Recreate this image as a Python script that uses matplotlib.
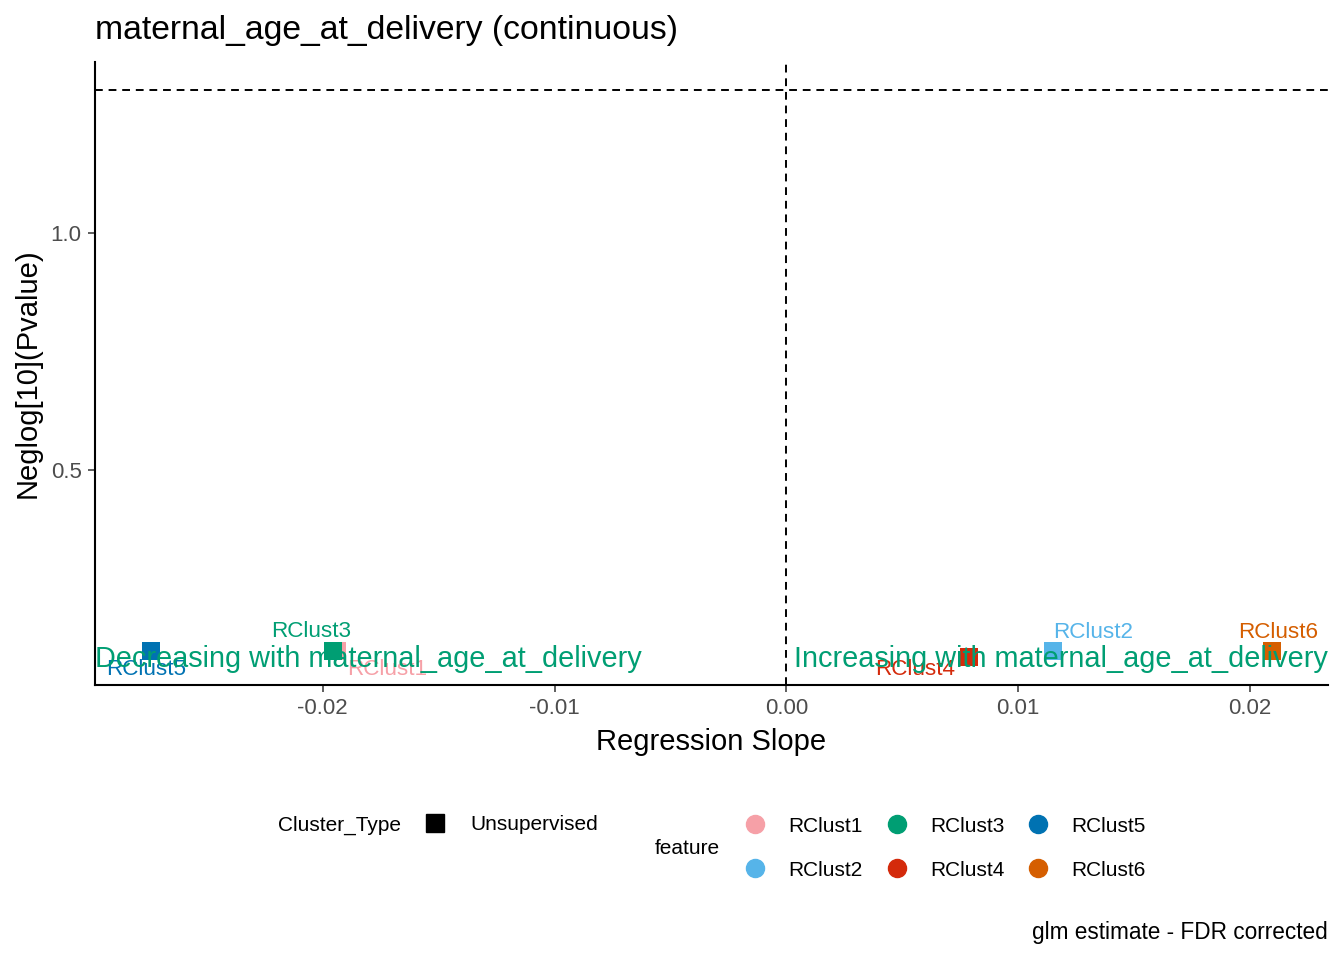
import matplotlib
matplotlib.use("Agg")
import matplotlib.pyplot as plt
from matplotlib.lines import Line2D

plt.rcParams['font.family'] = ['Liberation Sans', 'DejaVu Sans']

# data
features = ["RClust1", "RClust2", "RClust3", "RClust4", "RClust5", "RClust6"]
slope = [-0.0194, 0.0115, -0.01955, 0.0079, -0.02741, 0.02095]
neglog_p = [0.119, 0.119, 0.119, 0.106, 0.119, 0.119]
cluster_type = ["Unsupervised"] * 6
colors = ["#F6A0A7", "#56B4E9", "#009E73", "#D42A0B", "#0072B2", "#D55E00"]
sig_line = 1.301  # -log10(0.05)

# label offsets in points (dx, dy), like ggrepel placed them
label_off = {"RClust1": (36, -13.5), "RClust2": (29, 13), "RClust3": (-16, 13.5),
             "RClust4": (-39, -9.5), "RClust5": (-3.5, -13.5), "RClust6": (4.5, 13)}

W, H = 1344, 960
fig = plt.figure(figsize=(W / 100, H / 100), dpi=100)
ax = fig.add_axes([95 / W, (H - 685) / H, (1328 - 95) / W, (685 - 62) / H])

# draw order: RClust1 first so RClust3 covers it
for f, x, y, c in zip(features, slope, neglog_p, colors):
    ax.scatter(x, y, marker='s', s=13.5 ** 2, color=c, zorder=3, linewidths=0)
for f, x, y, c in zip(features, slope, neglog_p, colors):
    dx, dy = label_off[f]
    ax.annotate(f, (x, y), xytext=(dx, dy), textcoords='offset points',
                ha='center', va='center', color=c, fontsize=16.2, zorder=4)

ax.axhline(sig_line, color='black', lw=1.4, ls=(0, (4, 3)), zorder=2)
ax.axvline(0, color='black', lw=1.4, ls=(0, (4, 3)), zorder=2)

# ggplot style 5% expansion
xs = slope + [0.0]
ys = neglog_p + [sig_line]
dx = (max(xs) - min(xs)) * 0.05
dy = (max(ys) - min(ys)) * 0.05
ax.set_xlim(min(xs) - dx, max(xs) + dx)
ax.set_ylim(min(ys) - dy, max(ys) + dy)

ax.text(0.0, 0.102, "Decreasing with maternal_age_at_delivery", transform=ax.get_yaxis_transform(),
        ha='left', va='center', color='#009E73', fontsize=20.8, zorder=5)
ax.text(1.0, 0.102, "Increasing with maternal_age_at_delivery", transform=ax.get_yaxis_transform(),
        ha='right', va='center', color='#009E73', fontsize=20.8, zorder=5)

ax.set_xticks([-0.02, -0.01, 0.0, 0.01, 0.02])
ax.set_xticklabels(["-0.02", "-0.01", "0.00", "0.01", "0.02"])
ax.set_yticks([0.5, 1.0])
ax.set_yticklabels(["0.5", "1.0"])
ax.tick_params(labelsize=16, labelcolor='#4D4D4D', color='#333333', length=5.2, width=1.1, pad=4.5)
for s in ['top', 'right']:
    ax.spines[s].set_visible(False)
for s in ['left', 'bottom']:
    ax.spines[s].set_linewidth(1.5)

fig.text(95 / W, 1 - 30 / H, "maternal_age_at_delivery (continuous)", fontsize=24.3, ha='left', va='center')
fig.text(711 / W, 1 - 742 / H, "Regression Slope", fontsize=21, ha='center', va='center')
fig.text(28 / W, 1 - 373 / H, "Neglog[10](Pvalue)", fontsize=21, ha='center', va='center', rotation=90)
fig.text(1328 / W, 1 - 933 / H, "glm estimate - FDR corrected", fontsize=16.3, ha='right', va='center')

# legends
fig.text(278 / W, 1 - 825 / H, "Cluster_Type", fontsize=15, ha='left', va='center')
h1 = [Line2D([], [], marker='s', color='black', ls='', ms=13)]
fig.legend(h1, [cluster_type[0]], loc='center left', bbox_to_anchor=(424.6 / W, 1 - 825 / H),
           frameon=False, fontsize=15, handlelength=1.0, handletextpad=1.18,
           borderpad=0, borderaxespad=0)

fig.text(655 / W, 1 - 849 / H, "feature", fontsize=15, ha='left', va='center')
h2 = [Line2D([], [], marker='o', color=c, ls='', ms=13) for c in colors]
fig.legend(h2, features, loc='center left', bbox_to_anchor=(744.6 / W, 1 - 848 / H), ncol=3,
           frameon=False, fontsize=15, handlelength=1.0, handletextpad=1.1,
           columnspacing=1.13, labelspacing=1.2, borderpad=0, borderaxespad=0)

fig.savefig("out.png", dpi=100)
